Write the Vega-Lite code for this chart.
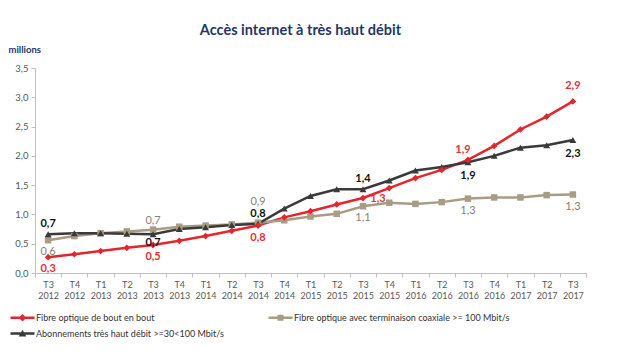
{
  "$schema": "https://vega.github.io/schema/vega-lite/v6.json",
  "width": 551,
  "height": 205,
  "autosize": {"type": "none"},
  "padding": {"left": 35, "top": 68, "right": 34, "bottom": 91},
  "background": "white",
  "config": {
    "locale": {"number": {"decimal": ",", "thousands": " ", "grouping": [3], "currency": ["", " €"]}},
    "view": {"stroke": null},
    "font": "Lato"
  },
  "title": {
    "text": "Accès internet à très haut débit",
    "font": "Lato",
    "fontSize": 14.5,
    "fontWeight": "bold",
    "color": "#1F3864",
    "anchor": "middle",
    "offset": 6,
    "dx": -10
  },
  "data": {
    "values": [
      {"q": "T3 2012", "s": "Fibre optique de bout en bout", "v": 0.27},
      {"q": "T4 2012", "s": "Fibre optique de bout en bout", "v": 0.32},
      {"q": "T1 2013", "s": "Fibre optique de bout en bout", "v": 0.375},
      {"q": "T2 2013", "s": "Fibre optique de bout en bout", "v": 0.43},
      {"q": "T3 2013", "s": "Fibre optique de bout en bout", "v": 0.48},
      {"q": "T4 2013", "s": "Fibre optique de bout en bout", "v": 0.55},
      {"q": "T1 2014", "s": "Fibre optique de bout en bout", "v": 0.63},
      {"q": "T2 2014", "s": "Fibre optique de bout en bout", "v": 0.72},
      {"q": "T3 2014", "s": "Fibre optique de bout en bout", "v": 0.81},
      {"q": "T4 2014", "s": "Fibre optique de bout en bout", "v": 0.95},
      {"q": "T1 2015", "s": "Fibre optique de bout en bout", "v": 1.055},
      {"q": "T2 2015", "s": "Fibre optique de bout en bout", "v": 1.17},
      {"q": "T3 2015", "s": "Fibre optique de bout en bout", "v": 1.28},
      {"q": "T4 2015", "s": "Fibre optique de bout en bout", "v": 1.45},
      {"q": "T1 2016", "s": "Fibre optique de bout en bout", "v": 1.62},
      {"q": "T2 2016", "s": "Fibre optique de bout en bout", "v": 1.76},
      {"q": "T3 2016", "s": "Fibre optique de bout en bout", "v": 1.93},
      {"q": "T4 2016", "s": "Fibre optique de bout en bout", "v": 2.17},
      {"q": "T1 2017", "s": "Fibre optique de bout en bout", "v": 2.45},
      {"q": "T2 2017", "s": "Fibre optique de bout en bout", "v": 2.67},
      {"q": "T3 2017", "s": "Fibre optique de bout en bout", "v": 2.93},
      {"q": "T3 2012", "s": "Fibre optique avec terminaison coaxiale >= 100 Mbit/s", "v": 0.56},
      {"q": "T4 2012", "s": "Fibre optique avec terminaison coaxiale >= 100 Mbit/s", "v": 0.63},
      {"q": "T1 2013", "s": "Fibre optique avec terminaison coaxiale >= 100 Mbit/s", "v": 0.68},
      {"q": "T2 2013", "s": "Fibre optique avec terminaison coaxiale >= 100 Mbit/s", "v": 0.71},
      {"q": "T3 2013", "s": "Fibre optique avec terminaison coaxiale >= 100 Mbit/s", "v": 0.74},
      {"q": "T4 2013", "s": "Fibre optique avec terminaison coaxiale >= 100 Mbit/s", "v": 0.79},
      {"q": "T1 2014", "s": "Fibre optique avec terminaison coaxiale >= 100 Mbit/s", "v": 0.81},
      {"q": "T2 2014", "s": "Fibre optique avec terminaison coaxiale >= 100 Mbit/s", "v": 0.83},
      {"q": "T3 2014", "s": "Fibre optique avec terminaison coaxiale >= 100 Mbit/s", "v": 0.86},
      {"q": "T4 2014", "s": "Fibre optique avec terminaison coaxiale >= 100 Mbit/s", "v": 0.9},
      {"q": "T1 2015", "s": "Fibre optique avec terminaison coaxiale >= 100 Mbit/s", "v": 0.965},
      {"q": "T2 2015", "s": "Fibre optique avec terminaison coaxiale >= 100 Mbit/s", "v": 1.01},
      {"q": "T3 2015", "s": "Fibre optique avec terminaison coaxiale >= 100 Mbit/s", "v": 1.14},
      {"q": "T4 2015", "s": "Fibre optique avec terminaison coaxiale >= 100 Mbit/s", "v": 1.2},
      {"q": "T1 2016", "s": "Fibre optique avec terminaison coaxiale >= 100 Mbit/s", "v": 1.18},
      {"q": "T2 2016", "s": "Fibre optique avec terminaison coaxiale >= 100 Mbit/s", "v": 1.21},
      {"q": "T3 2016", "s": "Fibre optique avec terminaison coaxiale >= 100 Mbit/s", "v": 1.27},
      {"q": "T4 2016", "s": "Fibre optique avec terminaison coaxiale >= 100 Mbit/s", "v": 1.29},
      {"q": "T1 2017", "s": "Fibre optique avec terminaison coaxiale >= 100 Mbit/s", "v": 1.29},
      {"q": "T2 2017", "s": "Fibre optique avec terminaison coaxiale >= 100 Mbit/s", "v": 1.33},
      {"q": "T3 2017", "s": "Fibre optique avec terminaison coaxiale >= 100 Mbit/s", "v": 1.34},
      {"q": "T3 2012", "s": "Abonnements très haut débit >=30<100 Mbit/s", "v": 0.66},
      {"q": "T4 2012", "s": "Abonnements très haut débit >=30<100 Mbit/s", "v": 0.68},
      {"q": "T1 2013", "s": "Abonnements très haut débit >=30<100 Mbit/s", "v": 0.68},
      {"q": "T2 2013", "s": "Abonnements très haut débit >=30<100 Mbit/s", "v": 0.67},
      {"q": "T3 2013", "s": "Abonnements très haut débit >=30<100 Mbit/s", "v": 0.66},
      {"q": "T4 2013", "s": "Abonnements très haut débit >=30<100 Mbit/s", "v": 0.75},
      {"q": "T1 2014", "s": "Abonnements très haut débit >=30<100 Mbit/s", "v": 0.78},
      {"q": "T2 2014", "s": "Abonnements très haut débit >=30<100 Mbit/s", "v": 0.82},
      {"q": "T3 2014", "s": "Abonnements très haut débit >=30<100 Mbit/s", "v": 0.84},
      {"q": "T4 2014", "s": "Abonnements très haut débit >=30<100 Mbit/s", "v": 1.1},
      {"q": "T1 2015", "s": "Abonnements très haut débit >=30<100 Mbit/s", "v": 1.315},
      {"q": "T2 2015", "s": "Abonnements très haut débit >=30<100 Mbit/s", "v": 1.43},
      {"q": "T3 2015", "s": "Abonnements très haut débit >=30<100 Mbit/s", "v": 1.43},
      {"q": "T4 2015", "s": "Abonnements très haut débit >=30<100 Mbit/s", "v": 1.58},
      {"q": "T1 2016", "s": "Abonnements très haut débit >=30<100 Mbit/s", "v": 1.75},
      {"q": "T2 2016", "s": "Abonnements très haut débit >=30<100 Mbit/s", "v": 1.81},
      {"q": "T3 2016", "s": "Abonnements très haut débit >=30<100 Mbit/s", "v": 1.89},
      {"q": "T4 2016", "s": "Abonnements très haut débit >=30<100 Mbit/s", "v": 2.0},
      {"q": "T1 2017", "s": "Abonnements très haut débit >=30<100 Mbit/s", "v": 2.14},
      {"q": "T2 2017", "s": "Abonnements très haut débit >=30<100 Mbit/s", "v": 2.18},
      {"q": "T3 2017", "s": "Abonnements très haut débit >=30<100 Mbit/s", "v": 2.27}
    ]
  },
  "encoding": {
    "x": {
      "field": "q",
      "type": "ordinal",
      "sort": null,
      "scale": {"type": "band", "paddingInner": 0, "paddingOuter": 0},
      "axis": {
        "title": null,
        "labelExpr": "datum.value ? split(datum.value, ' ') : ''",
        "labelAngle": 0,
        "labelFont": "Lato",
        "labelFontSize": 9,
        "labelColor": "#595959",
        "labelLineHeight": 11,
        "labelPadding": 3,
        "tickBand": "extent",
        "tickSize": 4,
        "tickColor": "#BFBFBF",
        "domainColor": "#BFBFBF",
        "grid": false
      }
    },
    "y": {
      "field": "v",
      "type": "quantitative",
      "scale": {"domain": [0, 3.5], "nice": false},
      "axis": {
        "title": "millions",
        "titleAngle": 0,
        "titleAlign": "left",
        "titleBaseline": "middle",
        "titleX": -27,
        "titleY": -19,
        "titleFont": "Lato",
        "titleFontSize": 9.5,
        "titleFontWeight": "bold",
        "titleColor": "#1F3864",
        "values": [0, 0.5, 1, 1.5, 2, 2.5, 3, 3.5],
        "format": ".1f",
        "grid": false,
        "domainColor": "#BFBFBF",
        "tickColor": "#BFBFBF",
        "tickSize": 4,
        "labelPadding": 3,
        "labelFont": "Lato",
        "labelFontSize": 9.5,
        "labelColor": "#595959"
      }
    }
  },
  "layer": [
    {
      "mark": {"type": "line", "strokeWidth": 2.5},
      "encoding": {
        "color": {
          "field": "s",
          "type": "nominal",
          "scale": {
            "domain": ["Fibre optique de bout en bout", "Fibre optique avec terminaison coaxiale >= 100 Mbit/s", "Abonnements très haut débit >=30<100 Mbit/s"],
            "range": ["#E3262D", "#A89C84", "#3A3A3A"]
          },
          "legend": {
            "title": null,
            "orient": "none",
            "legendX": -17,
            "legendY": 245,
            "direction": "horizontal",
            "columns": 2,
            "columnPadding": 44,
            "rowPadding": 6,
            "padding": 0,
            "symbolSize": 64,
            "labelOffset": 9,
            "labelFont": "Lato",
            "labelFontSize": 9,
            "labelColor": "#333333",
            "labelLimit": 400,
            "encode": {
              "symbols": {
                "update": {
                  "shape": {"signal": "datum.value === 'Fibre optique de bout en bout' ? 'M-3,-0.3L3,-0.3L3,0.3L-3,0.3ZM0,-0.95L0.95,0L0,0.95L-0.95,0Z' : datum.value === 'Abonnements très haut débit >=30<100 Mbit/s' ? 'M-3,-0.3L3,-0.3L3,0.3L-3,0.3ZM0,-0.95L0.95,0.75L-0.95,0.75Z' : 'M-3,-0.3L3,-0.3L3,0.3L-3,0.3ZM-0.75,-0.75L0.75,-0.75L0.75,0.75L-0.75,0.75Z'"},
                  "fill": {"signal": "scale('color', datum.value)"},
                  "stroke": {"value": "transparent"},
                  "strokeWidth": {"value": 0},
                  "opacity": {"value": 1},
                  "fillOpacity": {"value": 1}
                }
              }
            }
          }
        }
      }
    },
    {
      "transform": [{"filter": "datum.s === 'Fibre optique avec terminaison coaxiale >= 100 Mbit/s'"}],
      "mark": {"type": "point", "shape": "square", "filled": true, "opacity": 1, "size": 42, "color": "#A89C84"}
    },
    {
      "transform": [{"filter": "datum.s === 'Abonnements très haut débit >=30<100 Mbit/s'"}],
      "mark": {"type": "point", "shape": "triangle-up", "filled": true, "opacity": 1, "size": 48, "color": "#3A3A3A"}
    },
    {
      "transform": [{"filter": "datum.s === 'Fibre optique de bout en bout'"}],
      "mark": {"type": "point", "shape": "diamond", "filled": true, "opacity": 1, "size": 45, "color": "#E3262D"}
    },
    {
      "transform": [{"filter": "datum.s === 'Fibre optique de bout en bout' && indexof(['T3 2012','T3 2013','T3 2014'], datum.q) >= 0"}],
      "mark": {"type": "text", "dy": 12, "font": "Lato", "fontSize": 11, "fontWeight": "bold", "color": "#E0313A"},
      "encoding": {"text": {"field": "v", "format": ".1f"}}
    },
    {
      "transform": [{"filter": "datum.s === 'Fibre optique de bout en bout' && datum.q === 'T3 2015'"}],
      "mark": {"type": "text", "dx": 15, "dy": 1, "font": "Lato", "fontSize": 11, "fontWeight": "bold", "color": "#E0313A"},
      "encoding": {"text": {"field": "v", "format": ".1f"}}
    },
    {
      "transform": [{"filter": "datum.s === 'Fibre optique de bout en bout' && datum.q === 'T3 2016'"}],
      "mark": {"type": "text", "dx": -5, "dy": -10, "font": "Lato", "fontSize": 11, "fontWeight": "bold", "color": "#E0313A"},
      "encoding": {"text": {"field": "v", "format": ".1f"}}
    },
    {
      "transform": [{"filter": "datum.s === 'Fibre optique de bout en bout' && datum.q === 'T3 2017'"}],
      "mark": {"type": "text", "dy": -15, "font": "Lato", "fontSize": 11, "fontWeight": "bold", "color": "#E0313A"},
      "encoding": {"text": {"field": "v", "format": ".1f"}}
    },
    {
      "transform": [{"filter": "datum.s === 'Abonnements très haut débit >=30<100 Mbit/s' && indexof(['T3 2012','T3 2014','T3 2015'], datum.q) >= 0"}],
      "mark": {"type": "text", "dy": -10, "font": "Lato", "fontSize": 11, "fontWeight": "bold", "color": "#111111"},
      "encoding": {"text": {"field": "v", "format": ".1f"}}
    },
    {
      "transform": [{"filter": "datum.s === 'Abonnements très haut débit >=30<100 Mbit/s' && datum.q === 'T3 2013'"}],
      "mark": {"type": "text", "dy": 9, "font": "Lato", "fontSize": 11, "fontWeight": "bold", "color": "#111111"},
      "encoding": {"text": {"field": "v", "format": ".1f"}}
    },
    {
      "transform": [{"filter": "datum.s === 'Abonnements très haut débit >=30<100 Mbit/s' && indexof(['T3 2016','T3 2017'], datum.q) >= 0"}],
      "mark": {"type": "text", "dy": 14, "font": "Lato", "fontSize": 11, "fontWeight": "bold", "color": "#111111"},
      "encoding": {"text": {"field": "v", "format": ".1f"}}
    },
    {
      "transform": [{"filter": "datum.s === 'Fibre optique avec terminaison coaxiale >= 100 Mbit/s' && indexof(['T3 2012','T3 2015','T3 2016','T3 2017'], datum.q) >= 0"}],
      "mark": {"type": "text", "dy": 12, "font": "Lato", "fontSize": 11, "color": "#8C8170"},
      "encoding": {"text": {"field": "v", "format": ".1f"}}
    },
    {
      "transform": [{"filter": "datum.s === 'Fibre optique avec terminaison coaxiale >= 100 Mbit/s' && datum.q === 'T3 2013'"}],
      "mark": {"type": "text", "dy": -9, "font": "Lato", "fontSize": 11, "color": "#8C8170"},
      "encoding": {"text": {"field": "v", "format": ".1f"}}
    },
    {
      "transform": [{"filter": "datum.s === 'Fibre optique avec terminaison coaxiale >= 100 Mbit/s' && datum.q === 'T3 2014'"}],
      "mark": {"type": "text", "dy": -21, "font": "Lato", "fontSize": 11, "color": "#8C8170"},
      "encoding": {"text": {"field": "v", "format": ".1f"}}
    }
  ]
}
